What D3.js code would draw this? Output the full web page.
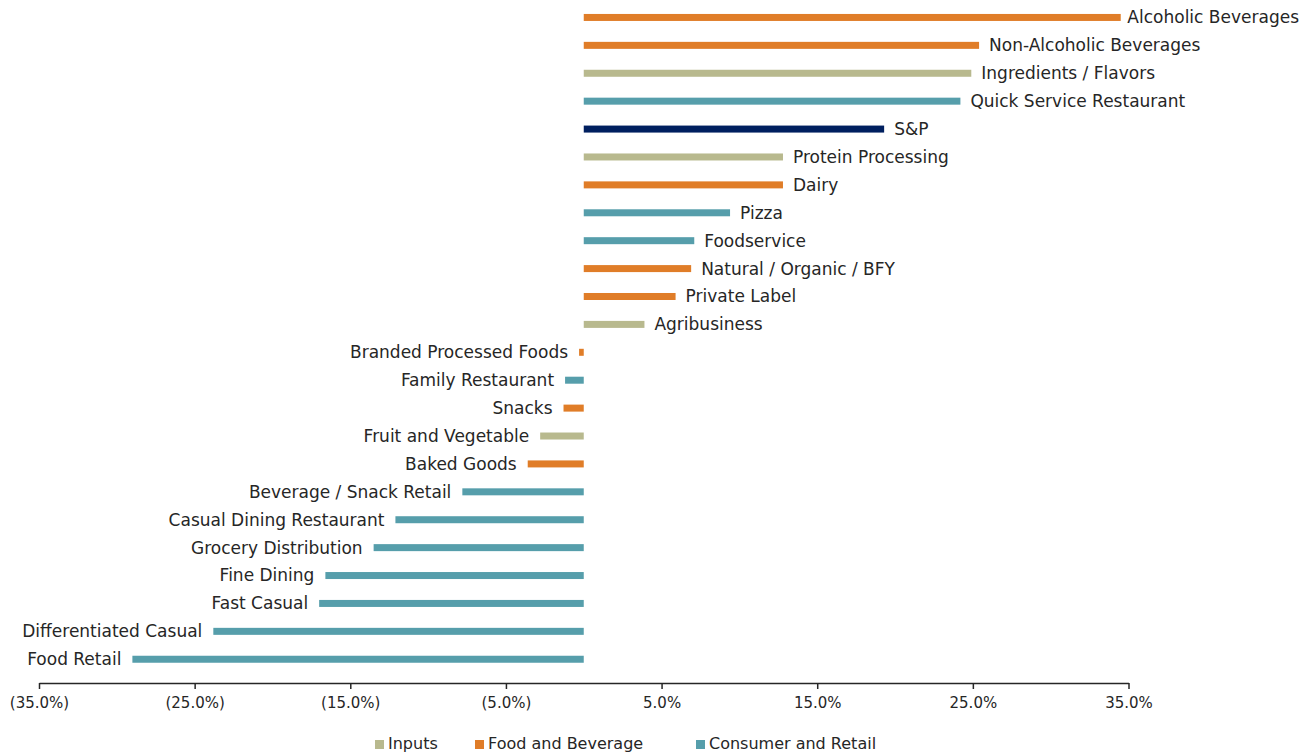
<!DOCTYPE html>
<html>
<head>
<meta charset="utf-8">
<script src="https://cdn.jsdelivr.net/npm/d3@7"></script>
<style>
  body { margin: 0; background: #fff; }
  text { font-family: "DejaVu Sans", sans-serif; fill: #262626; }
</style>
</head>
<body>
<div id="chart"></div>
<script>
// categories from top to bottom
var categories = ["Alcoholic Beverages", "Non-Alcoholic Beverages", "Ingredients / Flavors",
  "Quick Service Restaurant", "S&P", "Protein Processing", "Dairy", "Pizza", "Foodservice",
  "Natural / Organic / BFY", "Private Label", "Agribusiness", "Branded Processed Foods",
  "Family Restaurant", "Snacks", "Fruit and Vegetable", "Baked Goods", "Beverage / Snack Retail",
  "Casual Dining Restaurant", "Grocery Distribution", "Fine Dining", "Fast Casual",
  "Differentiated Casual", "Food Retail"];
var values = [34.5, 25.4, 24.9, 24.2, 19.3, 12.8, 12.8, 9.4, 7.1, 6.9, 5.9, 3.9, -0.3,
  -1.2, -1.3, -2.8, -3.6, -7.8, -12.1, -13.5, -16.6, -17.0, -23.8, -29.0];
var groups = ["Food and Beverage", "Food and Beverage", "Inputs", "Consumer and Retail", "Index",
  "Inputs", "Food and Beverage", "Consumer and Retail", "Consumer and Retail", "Food and Beverage",
  "Food and Beverage", "Inputs", "Food and Beverage", "Consumer and Retail", "Food and Beverage",
  "Inputs", "Food and Beverage", "Consumer and Retail", "Consumer and Retail", "Consumer and Retail",
  "Consumer and Retail", "Consumer and Retail", "Consumer and Retail", "Consumer and Retail"];
var tickValues = [-35, -25, -15, -5, 5, 15, 25, 35];
var legendKeys = ["Inputs", "Food and Beverage", "Consumer and Retail"];

var colors = {
  "Inputs": "#B8B98E",
  "Food and Beverage": "#E07D28",
  "Consumer and Retail": "#569EAB",
  "Index": "#001F5F"
};

var width = 1303, height = 754;

var svg = d3.select("#chart").append("svg")
  .attr("width", width)
  .attr("height", height);

var x = d3.scaleLinear().domain([-35, 35]).range([39, 1128.5]);
var y = d3.scaleBand().domain(categories).range([3.5, 673.2]).padding(0);

var bh = 7;
var data = categories.map(function(c, i) { return {name: c, value: values[i], group: groups[i]}; });

svg.selectAll("rect.bar")
  .data(data)
  .enter()
  .append("rect")
  .attr("class", "bar")
  .attr("x", function(d) { return x(Math.min(0, d.value)); })
  .attr("y", function(d) { return y(d.name) + y.bandwidth() / 2 - bh / 2; })
  .attr("width", function(d) { return Math.abs(x(d.value) - x(0)); })
  .attr("height", bh)
  .style("fill", function(d) { return colors[d.group]; });

var labels = svg.selectAll("text.lbl")
  .data(data)
  .enter()
  .append("text")
  .attr("class", "lbl")
  .attr("y", function(d) { return y(d.name) + y.bandwidth() / 2; })
  .attr("dy", "0.35em")
  .attr("text-anchor", function(d) { return d.value < 0 ? "end" : "start"; })
  .style("font-size", "17px")
  .text(function(d) { return d.name; });

labels.attr("x", function(d) {
  if (d.value < 0) return x(d.value) - 11;
  var w = this.getComputedTextLength();
  return Math.min(x(d.value) + 10, width - 4 - w);
});

// axis
var axis = svg.append("g")
  .attr("transform", "translate(0,683)")
  .call(d3.axisBottom(x)
    .tickValues(tickValues)
    .tickSize(6)
    .tickSizeOuter(0)
    .tickFormat(function(d) {
      var s = Math.abs(d).toFixed(1) + "%";
      return d < 0 ? "(" + s + ")" : s;
    }));
axis.select(".domain").attr("stroke", "#262626").attr("stroke-width", 1.5);
axis.selectAll(".tick line").attr("stroke", "#262626").attr("stroke-width", 1.5);
axis.selectAll(".tick text")
  .attr("y", 14)
  .style("font-size", "15px")
  .style("font-family", "DejaVu Sans, sans-serif")
  .attr("fill", "#262626");

// legend
var legendX = [375, 475, 696];
var legend = svg.selectAll("g.leg")
  .data(legendKeys)
  .enter()
  .append("g")
  .attr("class", "leg")
  .attr("transform", function(d, i) { return "translate(" + legendX[i] + ",740)"; });

legend.append("rect")
  .attr("width", 9)
  .attr("height", 9)
  .style("fill", function(d) { return colors[d]; });

legend.append("text")
  .attr("x", 13)
  .attr("y", 9)
  .style("font-size", "16px")
  .text(function(d) { return d; });
</script>
</body>
</html>
